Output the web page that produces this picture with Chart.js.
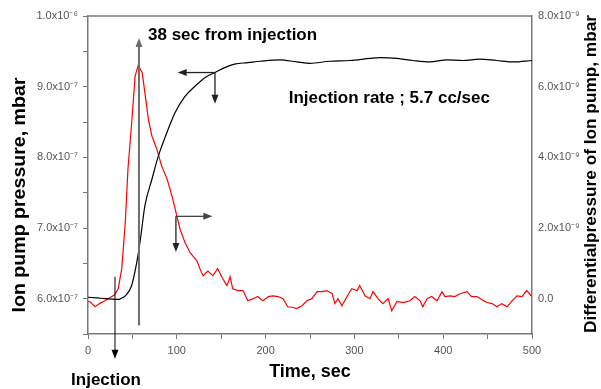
<!DOCTYPE html>
<html>
<head>
<meta charset="utf-8">
<script src="https://cdn.jsdelivr.net/npm/chart.js@4/dist/chart.umd.min.js"></script>
<style>
  body { margin: 0; background: #fff; }
  canvas { display: block; }
</style>
</head>
<body>
<canvas id="myChart" width="601" height="389"></canvas>
<script>
// ion pump pressure (left axis, units of 1e-7 mbar)
const pumpTime = [0, 10, 20, 30, 35, 38, 42, 49, 55, 59, 64, 72, 79, 87, 98, 109, 120, 132, 143, 154, 165, 180, 194, 216, 235, 250, 272, 295, 318, 329, 348, 366, 385, 404, 422, 441, 460, 479, 500];
const pumpPressure = [6.02, 6.01, 6.0, 5.99, 5.99, 6.01, 6.04, 6.18, 6.52, 6.84, 7.31, 7.69, 8.01, 8.29, 8.63, 8.86, 9.0, 9.13, 9.2, 9.27, 9.32, 9.34, 9.36, 9.38, 9.35, 9.33, 9.36, 9.37, 9.40, 9.41, 9.40, 9.37, 9.35, 9.38, 9.37, 9.39, 9.37, 9.35, 9.37];

// differential pressure (right axis, units of 1e-9 mbar)
const diffTime = [0, 2, 8, 13, 19, 25, 30, 34, 38, 42, 45, 49.5, 53, 56.5, 61, 64, 68, 72, 77.5, 83, 89, 94.6, 99, 103.6, 109, 115, 118, 122.6, 126, 129.5, 135, 140.7, 146, 151, 156.5, 160, 163, 169, 174.5, 180, 186, 191, 197, 203, 208, 214, 219.6, 225, 231, 235, 241, 246.6, 252, 258, 263.5, 269, 275, 278, 281.5, 286, 291.7, 297, 303, 306, 312, 317.6, 321, 326.6, 332, 338, 342, 348, 354.7, 362.6, 368, 374, 377, 381.8, 387, 393, 398.6, 402, 407.7, 413, 419, 426.8, 432, 438, 443.7, 449, 455, 460.6, 466, 472, 477.5, 483, 488.7, 494, 500];
const diffPressure = [-0.08, -0.08, -0.23, -0.14, -0.06, 0.03, 0.11, 0.28, 0.85, 2.17, 3.67, 5.08, 6.29, 6.6, 6.4, 5.84, 5.08, 4.6, 4.23, 3.75, 3.39, 2.9, 2.45, 1.97, 1.6, 1.3, 1.21, 1.08, 0.85, 0.65, 0.78, 0.65, 0.85, 0.6, 0.37, 0.62, 0.28, 0.23, 0.23, -0.06, 0, 0.06, -0.06, 0.06, 0.08, 0.06, 0, -0.23, -0.25, -0.28, -0.2, -0.06, 0, 0.2, 0.2, 0.23, 0.14, -0.14, 0, -0.2, 0.06, 0.28, 0.23, 0.37, 0.08, 0, 0.2, 0, -0.14, 0, -0.34, -0.08, -0.11, -0.06, 0.06, -0.06, -0.23, 0, 0.06, -0.06, 0.2, 0.06, 0.08, 0.06, 0.14, 0.2, 0.06, 0.06, -0.03, -0.11, -0.14, -0.23, -0.14, -0.23, -0.06, 0.08, 0.06, 0.23, 0.06];

// annotations, in data units (time, left axis value)
const peakLine = { t: 57.4, from: 5.62, to: 9.69 };
const injectionArrow = { t: 30.4, from: 6.31, to: 5.15 };
const pumpPointer = { t: 143, p: 9.2, tEnd: 101, pEnd: 8.76 };
const diffPointer = { t: 99, p: 7.165, tEnd: 140, pEnd: 6.66 };
const notes = [
  { text: "38 sec from injection", t: 67.6, p: 9.72, align: "left" },
  { text: "Injection rate ; 5.7 cc/sec", t: 226, p: 8.83, align: "left" },
  { text: "Injection", t: 20.3, p: 4.85, align: "center" },
];

const FONT = "'Liberation Sans', Arial, sans-serif";
Chart.defaults.font.family = FONT;

function arrow(ctx, x1, y1, x2, y2, color, width) {
  const ang = Math.atan2(y2 - y1, x2 - x1);
  const len = 9, half = 3.5;
  ctx.strokeStyle = color;
  ctx.fillStyle = color;
  ctx.lineWidth = width;
  ctx.beginPath();
  ctx.moveTo(x1, y1);
  ctx.lineTo(x2 - Math.cos(ang) * len * 0.6, y2 - Math.sin(ang) * len * 0.6);
  ctx.stroke();
  ctx.beginPath();
  ctx.moveTo(x2, y2);
  ctx.lineTo(x2 - len * Math.cos(ang) + half * Math.sin(ang), y2 - len * Math.sin(ang) - half * Math.cos(ang));
  ctx.lineTo(x2 - len * Math.cos(ang) - half * Math.sin(ang), y2 - len * Math.sin(ang) + half * Math.cos(ang));
  ctx.closePath();
  ctx.fill();
}

// rotated axis title, reading bottom to top, stretched to a given length
function sideTitle(ctx, text, cx, cy, size, length) {
  ctx.save();
  ctx.font = "bold " + size + "px " + FONT;
  const w = ctx.measureText(text).width;
  ctx.translate(cx, cy);
  ctx.rotate(-Math.PI / 2);
  ctx.scale(length / w, 1);
  ctx.fillStyle = "#000";
  ctx.textAlign = "center";
  ctx.textBaseline = "middle";
  ctx.fillText(text, 0, 0);
  ctx.restore();
}

const annotate = {
  id: "annotate",
  afterDraw(chart) {
    const { ctx, chartArea: a, scales } = chart;
    const x = scales.x, y = scales.y;
    ctx.save();

    // top frame line
    ctx.strokeStyle = "#7a7a7a";
    ctx.lineWidth = 1.5;
    ctx.beginPath();
    ctx.moveTo(a.left, a.top);
    ctx.lineTo(a.right, a.top);
    ctx.stroke();

    // 38 sec line
    const px = x.getPixelForValue(peakLine.t);
    arrow(ctx, px, y.getPixelForValue(peakLine.from), px, y.getPixelForValue(peakLine.to), "#6e6e6e", 2);

    // injection arrow
    const ix = x.getPixelForValue(injectionArrow.t);
    arrow(ctx, ix, y.getPixelForValue(injectionArrow.from), ix, y.getPixelForValue(injectionArrow.to), "#000", 1);

    // pointer for the black curve
    let jx = x.getPixelForValue(pumpPointer.t), jy = y.getPixelForValue(pumpPointer.p);
    arrow(ctx, jx, jy, x.getPixelForValue(pumpPointer.tEnd), jy, "#222", 1.3);
    arrow(ctx, jx, jy, jx, y.getPixelForValue(pumpPointer.pEnd), "#222", 1.3);

    // pointer for the red curve
    jx = x.getPixelForValue(diffPointer.t);
    jy = y.getPixelForValue(diffPointer.p);
    arrow(ctx, jx, jy, x.getPixelForValue(diffPointer.tEnd), jy, "#444", 1.3);
    arrow(ctx, jx, jy, jx, y.getPixelForValue(diffPointer.pEnd), "#222", 1.3);

    // notes
    ctx.fillStyle = "#000";
    ctx.textBaseline = "middle";
    ctx.font = "bold 17px " + FONT;
    notes.forEach((n) => {
      ctx.textAlign = n.align;
      ctx.fillText(n.text, x.getPixelForValue(n.t), y.getPixelForValue(n.p));
    });
    ctx.restore();

    // axis titles on both sides
    sideTitle(ctx, "Ion pump pressure, mbar", 20, 195, 18, 235);
    sideTitle(ctx, "Differentialpressure of Ion pump, mbar", 591, 174, 17, 318);
  },
};

function leftLabel(v) {
  const r = Math.round(v * 10);
  if (r % 10 !== 0) return "";
  if (r === 100) return "1.0x10\u207B\u2076";
  return (r / 10).toFixed(1) + "x10\u207B\u2077";
}

function rightLabel(v) {
  if (v < 0) return "";
  if (v === 0) return "0.0";
  return v.toFixed(1) + "x10\u207B\u2079";
}

const ctx = document.getElementById("myChart").getContext("2d");

const myChart = new Chart(ctx, {
  type: "line",
  data: {
    datasets: [
      {
        label: "Ion pump pressure",
        data: pumpTime.map((t, i) => ({ x: t, y: pumpPressure[i] })),
        borderColor: "#000",
        borderWidth: 1.2,
        pointRadius: 0,
        cubicInterpolationMode: "monotone",
        yAxisID: "y",
      },
      {
        label: "Differential pressure",
        data: diffTime.map((t, i) => ({ x: t, y: diffPressure[i] })),
        borderColor: "#ff0000",
        borderWidth: 1.2,
        pointRadius: 0,
        tension: 0,
        yAxisID: "y2",
      },
    ],
  },
  options: {
    responsive: false,
    animation: false,
    layout: { padding: { top: 16, left: 0, right: 0, bottom: 0 } },
    plugins: {
      legend: { display: false },
      tooltip: { enabled: false },
    },
    scales: {
      x: {
        type: "linear",
        min: 0,
        max: 500,
        afterFit: (s) => { s.height = 55; },
        ticks: {
          stepSize: 50,
          callback: (v) => (v % 100 === 0 ? v : ""),
          color: "#555",
          font: { size: 11 },
          padding: 5,
          maxRotation: 0,
          autoSkip: false,
        },
        grid: { drawOnChartArea: false, drawTicks: true, tickLength: 5, color: "#7a7a7a", lineWidth: 1 },
        border: { color: "#7a7a7a", width: 1.5 },
        title: {
          display: true,
          text: "Time, sec",
          color: "#000",
          font: { size: 18, weight: "bold" },
          padding: { top: 4, bottom: 6 },
        },
      },
      y: {
        position: "left",
        min: 5.5,
        max: 10,
        afterFit: (s) => { s.width = 88; },
        ticks: {
          stepSize: 0.5,
          callback: leftLabel,
          color: "#555",
          font: { size: 11 },
          padding: 5,
          autoSkip: false,
        },
        grid: { drawOnChartArea: false, drawTicks: true, tickLength: 5, color: "#7a7a7a", lineWidth: 1 },
        border: { color: "#7a7a7a", width: 1.5 },
      },
      y2: {
        position: "right",
        min: -1,
        max: 8,
        afterFit: (s) => { s.width = 69; },
        ticks: {
          stepSize: 2,
          callback: rightLabel,
          color: "#555",
          font: { size: 11 },
          padding: 6,
          autoSkip: false,
        },
        grid: { drawOnChartArea: false, drawTicks: false },
        border: { color: "#7a7a7a", width: 1.5 },
      },
    },
  },
  plugins: [annotate],
});
</script>
</body>
</html>
